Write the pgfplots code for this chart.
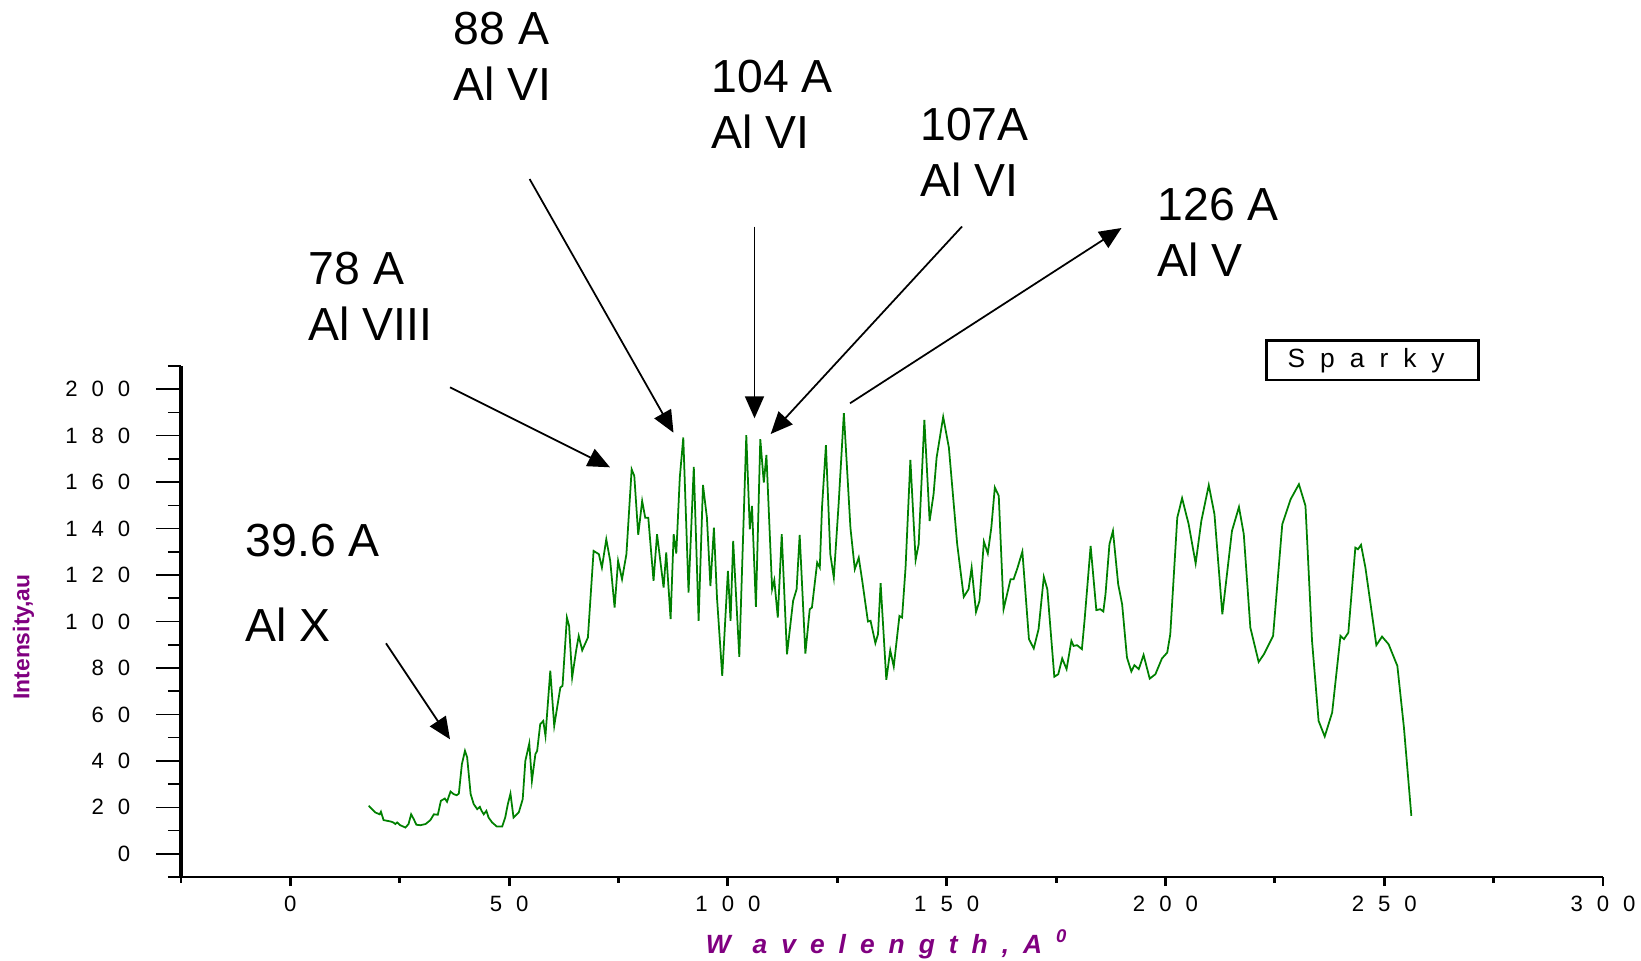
\documentclass[border=0pt]{standalone}
\usepackage{fontspec}
\setmainfont{Liberation Sans}
\usepackage{pgfplots}
\pgfplotsset{compat=1.18}
\usetikzlibrary{arrows.meta}
\definecolor{dgreen}{RGB}{0,128,0}
\definecolor{lpurple}{RGB}{128,0,128}
\newcommand{\g}{\hspace{1.4mm}}
\newcommand{\lt}{\hspace{1.4mm}}
\newcommand{\ann}{\fontsize{13.2}{16}\selectfont}
\begin{document}
\begin{tikzpicture}
\useasboundingbox (0,0) rectangle (164.1mm,96mm);
\begin{axis}[
  at={(18.1mm,8.3mm)}, anchor=south west,
  scale only axis, width=142.2mm, height=51.1mm,
  xmin=-25, xmax=300, ymin=-10, ymax=210,
  axis lines=left,
  x axis line style={-, line width=0.5pt},
  y axis line style={-, line width=1pt},
  tick align=outside,
  xtick={0,50,...,300}, minor xtick={-25,25,...,275},
  ytick={0,20,...,200}, minor ytick={-10,10,...,210},
  xticklabels={0,5\g0,1\g0\g0,1\g5\g0,2\g0\g0,2\g5\g0,3\g0\g0},
  yticklabels={0,2\g0,4\g0,6\g0,8\g0,1\g0\g0,1\g2\g0,1\g4\g0,1\g6\g0,1\g8\g0,2\g0\g0},
  major tick length=2.5mm, minor tick length=1.3mm,
  xtick style={black, line width=0.85pt, /pgfplots/major tick length=0.9mm, /pgfplots/minor tick length=0.55mm},
  ytick style={black, line width=0.45pt},
  tick label style={font=\fontsize{6.3}{7.5}\selectfont, inner sep=0pt},
  xticklabel style={anchor=north, yshift=0.7mm},
  yticklabel style={anchor=east, xshift=-2.5mm},
  every axis x label/.style={at={(axis description cs:0.4965,-0.1497)}, anchor=base},
  every axis y label/.style={at={(axis description cs:-0.1108,0.4697)}, rotate=90, anchor=center},
  xlabel={W\hspace{2.2mm}a\lt v\lt e\lt l\lt e\lt n\lt g\lt t\lt h\lt ,\lt A\lt\textsuperscript{0}},
  xlabel style={font=\bfseries\itshape\fontsize{7.5}{9}\selectfont, text=lpurple},
  ylabel={Intensity,au},
  ylabel style={font=\bfseries\fontsize{6.5}{8}\selectfont, text=lpurple},
  legend image code/.code={},
  legend style={at={(axis description cs:0.7626,1.0526)}, anchor=north west, draw=black, line width=0.7pt, inner sep=0pt, font=\fontsize{7.5}{9}\selectfont, nodes={inner sep=0pt, text height=2.75mm, text depth=1.2mm}},
  clip=false,
]
\addplot[dgreen, line width=0.5pt] table {
17.9 20.7
19.4 17.8
20.4 17.0
20.7 18.1
21.3 14.5
22.9 13.9
23.5 13.5
24.0 12.8
24.4 13.5
25.1 12.3
26.3 11.3
27.0 12.8
27.6 17.0
28.2 14.9
28.8 12.5
29.7 12.3
30.9 12.8
32.0 14.5
32.8 17.0
33.7 16.8
34.4 22.8
35.3 23.8
35.8 22.4
36.6 26.8
37.3 25.7
38.0 25.2
38.5 25.9
39.2 38.6
39.9 44.3
40.4 41.5
41.2 25.7
41.9 21.4
42.7 19.2
43.3 20.2
43.7 18.5
44.2 17.0
44.8 18.5
45.3 15.6
46.1 13.5
47.2 11.7
48.4 11.7
49.1 15.6
49.7 21.4
50.3 25.9
51.0 15.6
52.2 17.8
53.1 23.5
53.7 40.0
54.6 47.5
55.2 31.4
56.0 42.9
56.4 44.3
57.1 55.8
57.8 57.2
58.3 50.8
59.4 78.8
60.3 55.1
61.7 71.6
62.2 72.3
63.2 101.7
63.7 98.1
64.4 75.9
65.3 87.4
65.9 93.8
66.7 87.6
68.0 93.1
69.3 130.4
70.5 129.0
71.2 123.2
72.2 135.4
73.1 126.1
74.1 106.0
74.9 126.1
75.8 118.2
76.8 129.0
78.0 165.5
78.6 162.7
79.5 137.3
80.4 151.9
81.1 144.7
81.8 144.7
83.0 117.5
83.8 137.6
85.3 114.6
85.9 129.7
86.9 101.0
87.6 137.6
88.2 129.3
89.0 162.0
89.8 179.2
91.0 112.5
92.2 166.6
93.3 100.3
94.3 158.8
95.2 144.7
96.0 115.3
96.8 140.4
97.5 110.3
98.7 76.6
100.0 121.8
100.6 100.3
101.2 134.7
102.6 84.8
104.2 180.2
105.0 139.7
105.5 149.8
106.4 106.3
107.4 178.5
108.2 159.8
108.8 171.7
110.1 113.9
110.6 117.8
111.4 101.7
112.3 137.6
113.5 85.9
114.9 108.9
115.7 113.9
116.4 137.3
117.7 86.2
118.7 105.3
119.2 106.0
120.4 125.4
121.0 123.2
121.5 149.0
122.4 175.9
123.4 129.0
124.2 118.9
125.3 150.5
126.5 189.7
128.0 140.4
129.0 122.5
129.9 127.5
130.7 117.5
132.0 100.0
132.6 100.3
133.7 90.7
134.3 94.5
134.9 116.5
136.2 74.9
137.1 87.6
137.9 80.6
139.2 102.4
139.8 101.7
140.6 123.2
141.7 169.6
142.9 126.5
143.6 133.3
144.9 186.8
146.1 143.3
147.0 154.8
147.7 170.6
149.2 188.1
150.5 174.9
152.4 133.3
153.9 110.6
155.0 113.9
155.7 123.2
156.7 104.1
157.5 108.9
158.5 134.4
159.4 129.3
160.2 140.4
161.0 157.7
161.9 154.1
163.0 105.3
164.6 118.2
165.3 118.2
166.2 123.2
167.3 130.1
168.8 92.4
169.9 88.4
171.0 96.7
172.2 119.2
173.0 113.9
174.6 76.2
175.5 77.3
176.4 84.1
177.4 79.5
178.5 91.7
179.0 89.5
179.8 89.8
180.9 88.1
181.5 100.3
182.9 132.5
184.2 104.9
185.1 105.3
185.8 104.3
186.3 111.8
187.2 133.3
188.0 139.0
189.2 116.0
190.1 107.4
191.2 84.5
192.2 78.5
192.9 81.2
193.9 79.5
195.0 85.6
196.4 75.4
197.7 77.3
199.2 84.1
200.4 86.6
201.1 94.5
202.7 144.7
203.8 153.1
205.3 141.9
206.9 125.0
208.2 143.3
209.9 158.7
211.2 146.2
213.0 103.1
215.2 139.0
216.8 149.3
217.9 137.6
219.4 97.4
221.3 82.6
222.5 85.9
224.6 93.8
226.7 141.9
228.6 152.6
230.5 159.1
232.0 149.8
233.5 91.7
235.0 57.2
236.4 50.5
238.1 60.8
240.0 93.8
240.8 92.4
241.8 95.2
243.4 131.8
244.0 131.1
244.7 133.0
245.7 123.2
248.2 89.8
249.5 93.5
251.0 90.2
253.0 80.9
254.5 54.4
256.2 16.3
};
\addlegendentry{\makebox[21.2mm][l]{\hspace{2.1mm}S\hspace{1.5mm}p\hspace{1.5mm}a\hspace{1.5mm}r\hspace{1.5mm}k\hspace{1.5mm}y}}
\end{axis}
\begin{scope}[x=0.1mm, y=-0.1mm, yshift=96mm]
  \tikzset{lab/.style={anchor=base west, inner sep=0pt, font=\ann},
           arr/.style={line width=0.5pt, -{Triangle[length=2.2mm, width=1.9mm]}}}
  \node[lab] at (245,556) {39.6 A};
  \node[lab] at (245,641.7) {Al X};
  \node[lab] at (308,284) {78 A};
  \node[lab] at (308,340) {Al VIII};
  \node[lab] at (453,44.3) {88 A};
  \node[lab] at (453,100) {Al VI};
  \node[lab] at (711,92.3) {104 A};
  \node[lab] at (711,148.3) {Al VI};
  \node[lab] at (919.5,140) {107A};
  \node[lab] at (919.5,196.7) {Al VI};
  \node[lab] at (1157,220) {126 A};
  \node[lab] at (1157,276.7) {Al V};
  \draw[arr] (386,643.3) -- (450,739.3);
  \draw[arr] (450,387.3) -- (610,467.3);
  \draw[arr] (529.6,179) -- (673.5,432.7);
  \draw[arr] (754.5,226.5) -- (754.5,418.3);
  \draw[arr] (962,226.5) -- (770.7,434);
  \draw[arr] (850,403.3) -- (1121.5,228);
\end{scope}
\end{tikzpicture}
\end{document}
